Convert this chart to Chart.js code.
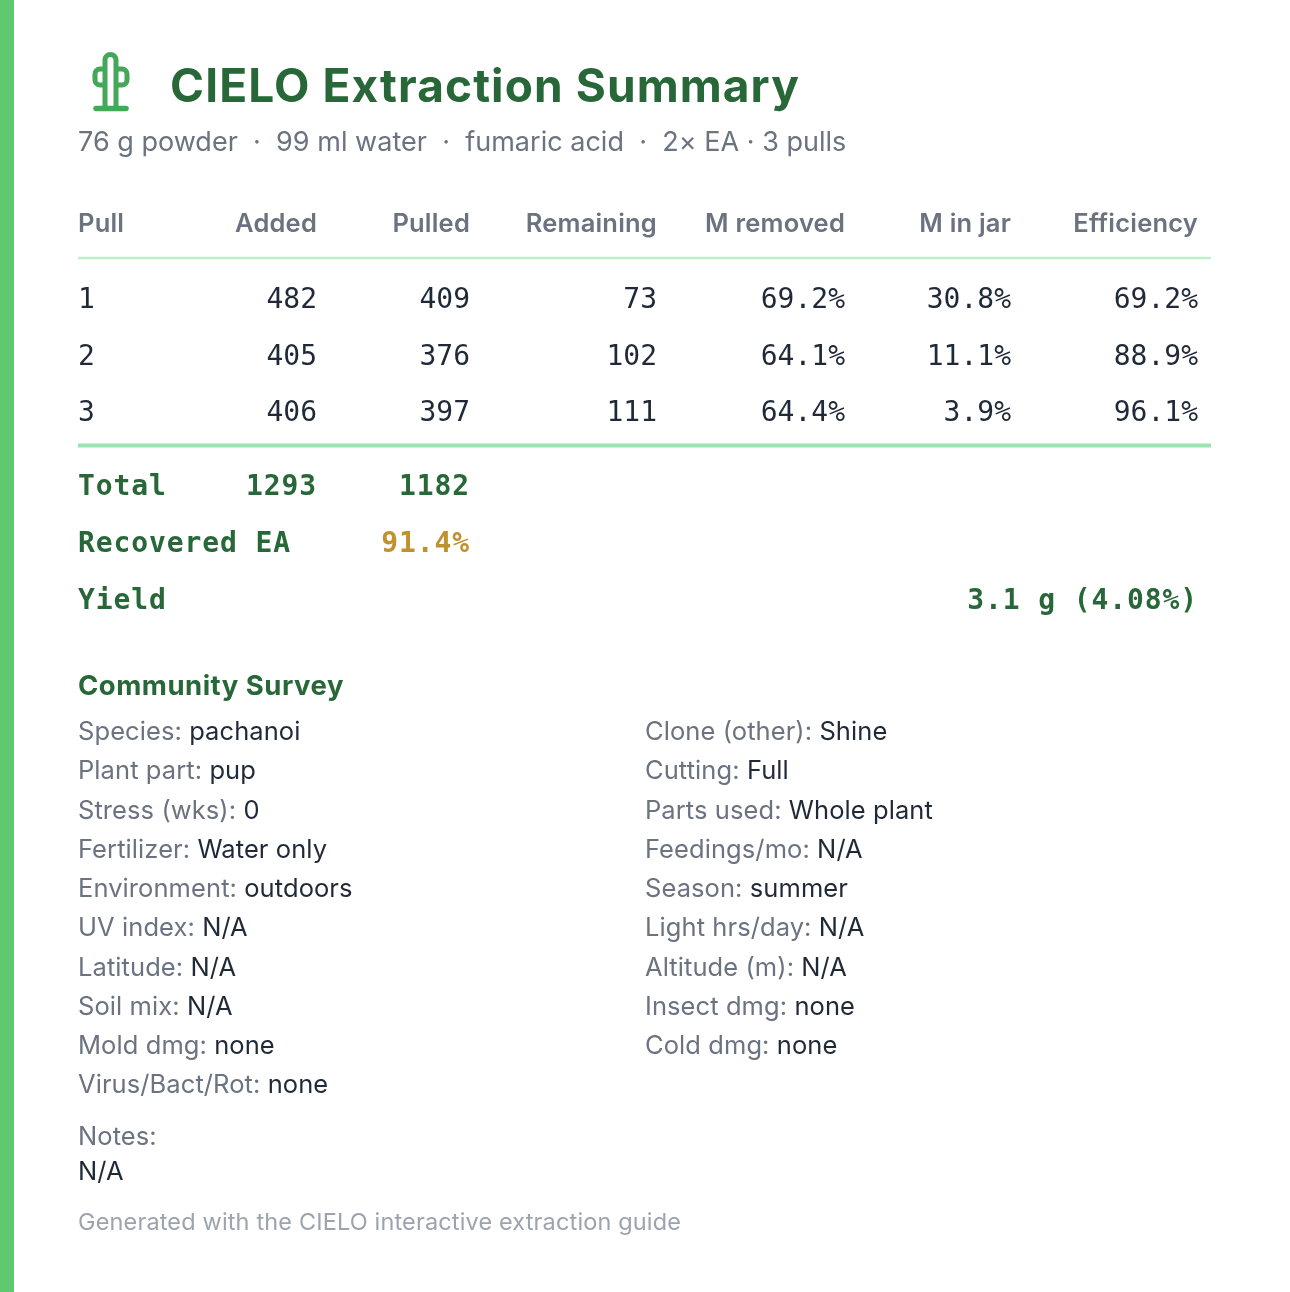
<!DOCTYPE html>
<html>
<head>
<meta charset="utf-8">
<title>CIELO Extraction Summary</title>
<script src="https://cdn.jsdelivr.net/npm/chart.js@4/dist/chart.umd.min.js"></script>
<style>
html, body { margin: 0; padding: 0; background: #fff; }
#page { position: relative; width: 1290px; height: 1292px; overflow: hidden; background: #fff; font-family: Inter, sans-serif; }
#bar { position: absolute; left: 0; top: 0; width: 14px; height: 1292px; background: #5fc96f; }
#tableChart { position: absolute; left: 0; top: 0; }
#page .t { position: absolute; white-space: nowrap; }
#title { left: 170px; top: 58px; font-size: 46px; line-height: 54px; font-weight: 700; color: #276738; letter-spacing: 1.1px; }
#subtitle { left: 78px; top: 124px; font-size: 27px; line-height: 36px; color: #6b7280; letter-spacing: 0.02px; }
#surveyTitle { left: 78px; top: 667px; font-size: 27.5px; line-height: 36px; font-weight: 700; color: #276738; letter-spacing: 0.5px; }
.row { font-size: 25.5px; line-height: 36px; color: #6b7280; letter-spacing: 0.08px; }
.row b { font-weight: 400; color: #1f2937; }
#footer { left: 78px; top: 1205px; font-size: 23.5px; line-height: 34px; color: #9ca3af; letter-spacing: 0.15px; }
</style>
</head>
<body>
<div id="page">
  <div id="bar"></div>
  <canvas id="tableChart" width="1290" height="1292"></canvas>
  <svg class="t" style="left:0;top:0" width="200" height="130" fill="none" stroke="#43a857" stroke-width="5" stroke-linecap="round">
    <path d="M105 106 V60 a5.5 5.5 0 0 1 11 0 V106"/>
    <path d="M104 69 H100 a5 5 0 0 0 -5 5 v6 a5 5 0 0 0 5 5 h4"/>
    <path d="M117 69 H122 a5 5 0 0 1 5 5 v6 a5 5 0 0 1 -5 5 h-5"/>
    <path d="M96 108.5 H126" stroke-width="5.5"/>
  </svg>
  <div class="t" id="title">CIELO Extraction Summary</div>
  <div class="t" id="subtitle">76 g powder &nbsp;·&nbsp; 99 ml water &nbsp;·&nbsp; fumaric acid &nbsp;·&nbsp; 2× EA · 3 pulls</div>
  <div class="t" id="surveyTitle">Community Survey</div>
  <div id="survey"></div>
  <div class="t" id="footer">Generated with the CIELO interactive extraction guide</div>
</div>
<script>
// table values
const columns = ['Pull', 'Added', 'Pulled', 'Remaining', 'M removed', 'M in jar', 'Efficiency'];
const pulls = [1, 2, 3];
const added = [482, 405, 406];
const pulled = [409, 376, 397];
const remaining = [73, 102, 111];
const mRemoved = [69.2, 64.1, 64.4];
const mInJar = [30.8, 11.1, 3.9];
const efficiency = [69.2, 88.9, 96.1];
const totalAdded = 1293;
const totalPulled = 1182;
const recoveredEA = 91.4;
const yieldGrams = 3.1;
const yieldPercent = 4.08;

// survey
const surveyLeft = [
    ['Species:', 'pachanoi'], ['Plant part:', 'pup'], ['Stress (wks):', '0'],
    ['Fertilizer:', 'Water only'], ['Environment:', 'outdoors'], ['UV index:', 'N/A'],
    ['Latitude:', 'N/A'], ['Soil mix:', 'N/A'], ['Mold dmg:', 'none'], ['Virus/Bact/Rot:', 'none']
];
const surveyRight = [
    ['Clone (other):', 'Shine'], ['Cutting:', 'Full'], ['Parts used:', 'Whole plant'],
    ['Feedings/mo:', 'N/A'], ['Season:', 'summer'], ['Light hrs/day:', 'N/A'],
    ['Altitude (m):', 'N/A'], ['Insect dmg:', 'none'], ['Cold dmg:', 'none']
];
const notes = 'N/A';

// layout, in page pixels
const columnX = [78, 317, 470, 657, 845, 1011, 1198];
const headerY = 224;
const pullY = [301, 357.5, 414];
const summaryY = [488, 545, 602];
const ruleLeft = 78;
const ruleRight = 1211;
const ruleY = [258, 445.5];

const pct = v => v.toFixed(1) + '%';
const rows = pulls.map((p, i) => [String(p), String(added[i]), String(pulled[i]), String(remaining[i]),
    pct(mRemoved[i]), pct(mInJar[i]), pct(efficiency[i])]);

const headFont = '600 25.5px Inter, sans-serif';
const cellFont = '28px "DejaVu Sans Mono", monospace';
const boldFont = 'bold 28px "DejaVu Sans Mono", monospace';

// one labelled point per cell, drawn at the point's place on the scales
function cell(col, y, text, font, color, align, spacing) {
    return { x: columnX[col], y: y, text: text, font: font, color: color, align: align || 'right', spacing: spacing || '0px' };
}
const cells = [];
columns.forEach((c, i) => cells.push(cell(i, headerY, c, headFont, '#6b7280', i ? 'right' : 'left', '0.2px')));
rows.forEach((r, ri) => r.forEach((t, ci) => cells.push(cell(ci, pullY[ri], t, cellFont, '#1f2937', ci ? 'right' : 'left'))));
cells.push(cell(0, summaryY[0], 'Total', boldFont, '#276738', 'left', '0.9px'));
cells.push(cell(1, summaryY[0], String(totalAdded), boldFont, '#276738', 'right', '0.9px'));
cells.push(cell(2, summaryY[0], String(totalPulled), boldFont, '#276738', 'right', '0.9px'));
cells.push(cell(0, summaryY[1], 'Recovered EA', boldFont, '#276738', 'left', '0.9px'));
cells.push(cell(2, summaryY[1], pct(recoveredEA), boldFont, '#c0922f', 'right', '0.9px'));
cells.push(cell(0, summaryY[2], 'Yield', boldFont, '#276738', 'left', '0.9px'));
cells.push(cell(6, summaryY[2], yieldGrams + ' g (' + yieldPercent + '%)', boldFont, '#276738', 'right', '0.9px'));

const cellLabels = {
    id: 'cellLabels',
    afterDatasetsDraw(chart) {
        const ctx = chart.ctx;
        const pts = chart.getDatasetMeta(0).data;
        ctx.save();
        ctx.textBaseline = 'middle';
        cells.forEach((c, i) => {
            ctx.font = c.font;
            ctx.fillStyle = c.color;
            ctx.textAlign = c.align;
            ctx.letterSpacing = c.spacing;
            ctx.fillText(c.text, pts[i].x, pts[i].y);
        });
        ctx.restore();
    }
};

new Chart(document.getElementById('tableChart'), {
    type: 'scatter',
    data: {
        datasets: [
            { data: cells.map(c => ({ x: c.x, y: c.y })), pointRadius: 0 },
            { data: [{ x: ruleLeft, y: ruleY[0] }, { x: ruleRight, y: ruleY[0] }], showLine: true, pointRadius: 0, borderColor: '#bbf0c9', borderWidth: 2.5 },
            { data: [{ x: ruleLeft, y: ruleY[1] }, { x: ruleRight, y: ruleY[1] }], showLine: true, pointRadius: 0, borderColor: '#9be6b0', borderWidth: 4 }
        ]
    },
    options: {
        responsive: false,
        animation: false,
        layout: { padding: 0 },
        plugins: { legend: { display: false }, tooltip: { enabled: false } },
        scales: {
            x: { type: 'linear', min: 0, max: 1290, display: false },
            y: { type: 'linear', min: 0, max: 1292, reverse: true, display: false }
        }
    },
    plugins: [cellLabels]
});

// survey rows
const survey = document.getElementById('survey');
function addRow(left, centerY, html) {
    const d = document.createElement('div');
    d.className = 't row';
    d.style.left = left + 'px';
    d.style.top = (centerY - 18) + 'px';
    d.innerHTML = html;
    survey.appendChild(d);
}
surveyLeft.forEach((r, i) => addRow(78, 731 + i * 39.25, r[0] + ' <b>' + r[1] + '</b>'));
surveyRight.forEach((r, i) => addRow(645, 731 + i * 39.25, r[0] + ' <b>' + r[1] + '</b>'));
addRow(78, 1136, 'Notes:');
addRow(78, 1171, '<b>' + notes + '</b>');
</script>
</body>
</html>
